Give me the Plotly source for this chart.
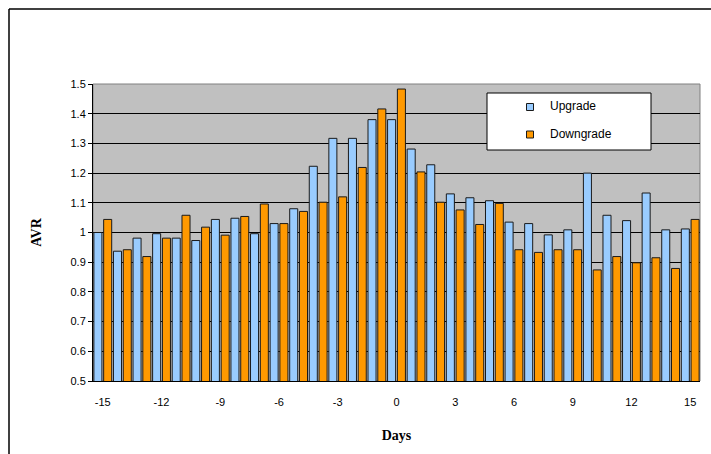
import plotly.graph_objects as go

days = list(range(-15, 16))
upgrade = [1.000, 0.937, 0.981, 0.996, 0.981, 0.973, 1.044, 1.048, 0.996, 1.030,
           1.080, 1.223, 1.317, 1.317, 1.380, 1.380, 1.281, 1.228, 1.130, 1.117,
           1.107, 1.035, 1.030, 0.992, 1.009, 1.200, 1.058, 1.040, 1.133, 1.009, 1.012]
downgrade = [1.044, 0.942, 0.919, 0.981, 1.058, 1.018, 0.991, 1.054, 1.096, 1.030,
             1.071, 1.102, 1.120, 1.219, 1.416, 1.483, 1.204, 1.102, 1.076, 1.027,
             1.098, 0.942, 0.933, 0.942, 0.942, 0.874, 0.919, 0.898, 0.915, 0.879, 1.044]
x_tick_vals = list(range(-15, 16, 3))
x_tick_text = [str(v) for v in x_tick_vals]
y_tick_vals = [0.5, 0.6, 0.7, 0.8, 0.9, 1.0, 1.1, 1.2, 1.3, 1.4, 1.5]
y_tick_text = ["0.5", "0.6", "0.7", "0.8", "0.9", "1", "1.1", "1.2", "1.3", "1.4", "1.5"]
series_names = ["Upgrade", "Downgrade"]
colors = ["#99CCFF", "#FF9900"]

W, H = 711, 454
L, R, T, B = 93, 11, 84, 73
pw, ph = W - L - R, H - T - B

def px(x):
    return (x - L) / pw

def py(y):
    return (H - B - y) / ph

fig = go.Figure()
for name, vals, col in zip(series_names, [upgrade, downgrade], colors):
    fig.add_trace(go.Bar(x=days, y=vals, name=name, marker_color=col,
                         marker_line_color="#1a1a1a", marker_line_width=1,
                         showlegend=False))

minor_ticks = [d - 0.5 for d in days[::2]]

fig.update_layout(
    width=W, height=H,
    margin=dict(l=L, r=R, t=T, b=B, pad=0),
    paper_bgcolor="white", plot_bgcolor="#C0C0C0",
    barmode="group", bargap=0, bargroupgap=0.18,
    font=dict(family="Liberation Sans, Arial", size=11, color="black"),
    xaxis=dict(range=[-15.5, 15.5], tickvals=x_tick_vals, ticktext=x_tick_text,
               ticks="outside", ticklen=11,
               tickcolor="rgba(0,0,0,0)", showgrid=False, zeroline=False,
               showline=True, linecolor="black", linewidth=1,
               title=dict(text="<b>Days</b>", standoff=22,
                          font=dict(family="Liberation Serif, Times New Roman", size=14))),
    xaxis2=dict(range=[-15.5, 15.5], overlaying="x", anchor="y", side="bottom",
                tickvals=minor_ticks, ticks="outside", ticklen=4, tickcolor="black",
                showticklabels=False, showgrid=False, zeroline=False, showline=False),
    yaxis=dict(range=[0.5, 1.5], tickvals=y_tick_vals, ticktext=y_tick_text,
               ticks="outside", ticklen=4, tickcolor="black",
               showgrid=True, gridcolor="black", gridwidth=1, zeroline=False,
               showline=True, linecolor="black", linewidth=1,
               title=dict(text="<b>AVR</b>", standoff=25,
                          font=dict(family="Liberation Serif, Times New Roman", size=14))),
)

shapes = []
# plot area gray border (top/right)
shapes.append(dict(type="rect", xref="paper", yref="paper", x0=0, x1=1, y0=0, y1=1,
                   line=dict(color="#808080", width=1), layer="below"))
# outer chart frame (left & top visible)
fx, fy = px(9), py(9)
shapes.append(dict(type="line", xref="paper", yref="paper", x0=fx, x1=fx, y0=-0.4, y1=fy,
                   line=dict(color="black", width=1.5)))
shapes.append(dict(type="line", xref="paper", yref="paper", x0=fx, x1=1.2, y0=fy, y1=fy,
                   line=dict(color="black", width=1.5)))
# legend box
shapes.append(dict(type="rect", xref="paper", yref="paper", x0=px(487), x1=px(651),
                   y0=py(150), y1=py(93), fillcolor="white",
                   line=dict(color="black", width=1)))
annotations = []
for name, col, cy in zip(series_names, colors, [107, 134.5]):
    shapes.append(dict(type="rect", xref="paper", yref="paper", x0=px(526.5), x1=px(533.5),
                       y0=py(cy + 3.5), y1=py(cy - 3.5), fillcolor=col,
                       line=dict(color="#1a1a1a", width=1)))
    annotations.append(dict(xref="paper", yref="paper", x=px(548), y=py(cy - 1),
                            xanchor="left", yanchor="middle", showarrow=False, text=name,
                            font=dict(family="Liberation Sans, Arial", size=12, color="black")))
fig.update_layout(shapes=shapes, annotations=annotations)

fig.write_html("out.html", config={"displayModeBar": False},
               post_script="document.body.style.margin='0';document.body.style.overflow='hidden';")
